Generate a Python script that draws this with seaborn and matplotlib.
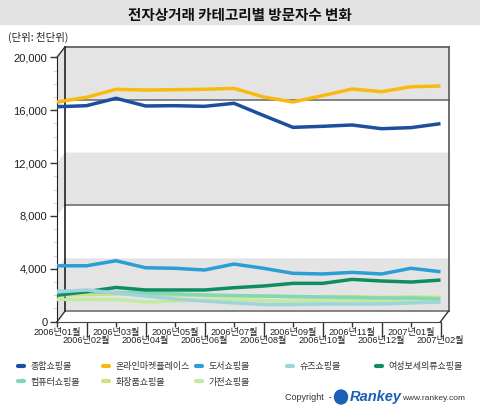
import numpy as np
import pandas as pd
import seaborn as sns
import matplotlib.pyplot as plt
from matplotlib.lines import Line2D
from matplotlib.patches import Polygon, Rectangle, Ellipse

# data (thousand visitors)
months = ['2006년01월', '2006년02월', '2006년03월', '2006년04월', '2006년05월', '2006년06월', '2006년07월',
          '2006년08월', '2006년09월', '2006년10월', '2006년11월', '2006년12월', '2007년01월', '2007년02월']
total_mall = [16260, 16340, 16900, 16320, 16340, 16290, 16520, 15600, 14700, 14780, 14880, 14600, 14680, 14980]
market_place = [16620, 16970, 17580, 17520, 17550, 17580, 17650, 17000, 16620, 17100, 17600, 17400, 17770, 17830]
book_mall = [4230, 4230, 4610, 4080, 4040, 3910, 4360, 4040, 3660, 3610, 3730, 3610, 4040, 3780]
women_mall = [2000, 2270, 2590, 2400, 2400, 2400, 2570, 2700, 2900, 2900, 3200, 3080, 3000, 3150]
shoes_mall = [2250, 2400, 2170, 1940, 1720, 1560, 1420, 1300, 1300, 1340, 1340, 1340, 1420, 1490]
computer_mall = [2320, 2250, 2210, 2170, 2100, 2020, 1980, 1940, 1900, 1870, 1830, 1790, 1790, 1720]
cosmetic_mall = [2020, 2060, 2100, 2060, 2020, 1980, 1940, 1940, 1900, 1870, 1900, 1830, 1870, 1830]
appliance_mall = [1680, 1680, 1680, 1490, 1560, 1640, 1640, 1600, 1560, 1560, 1600, 1560, 1560, 1490]

names = ['종합쇼핑몰', '온라인마켓플레이스', '도서쇼핑몰', '슈즈쇼핑몰', '여성보세의류쇼핑몰',
         '컴퓨터쇼핑몰', '화장품쇼핑몰', '가전쇼핑몰']
colors = ['#1d4f9e', '#f7bb10', '#2a9fd6', '#9fd4dc', '#0f8c60', '#80d8b6', '#cde27a', '#c2eaa0']
series = [total_mall, market_place, book_mall, shoes_mall, women_mall, computer_mall, cosmetic_mall, appliance_mall]

df = pd.DataFrame({'month': np.tile(np.arange(len(months)), len(names)),
                   'visitors': np.concatenate(series),
                   'category': np.repeat(names, len(months))})

plt.rcParams['font.family'] = ['Liberation Sans', 'Noto Sans CJK KR', 'DejaVu Sans']
kr = ['Noto Sans CJK KR', 'DejaVu Sans']

W, H = 480, 409
fig = plt.figure(figsize=(W / 100, H / 100), dpi=100)

# title bar
fig.patches.append(Rectangle((0, 1 - 24 / H), 1, 24 / H, transform=fig.transFigure,
                             color='#e3e3e3', zorder=0))
fig.text(0.5, 1 - 15 / H, '전자상거래 카테고리별 방문자수 변화', ha='center', va='center',
         fontsize=10.5, fontweight='bold', color='#111111', family=kr)
fig.text(8 / W, 1 - 37 / H, '(단위: 천단위)', ha='left', va='center', fontsize=7.5, color='#222222',
         family=kr)

# front plane of the pseudo-3d chart
x0, x1, y0, y1 = 57, 440.5, 321.7, 57.3
ax = fig.add_axes([x0 / W, 1 - y0 / H, (x1 - x0) / W, (y0 - y1) / H])
n = len(months) - 1
ax.set_xlim(0, n)
ax.set_ylim(0, 20000)
ax.set_facecolor('none')

dx = 8 / ((x1 - x0) / n)
dy = 10.5 / ((y0 - y1) / 20000)

# back wall bands
for lo, hi in [(0, 4000), (8000, 12000), (16000, 20000)]:
    ax.add_patch(Polygon([(0, lo), (dx, lo + dy), (n + dx, lo + dy), (n + dx, hi + dy), (dx, hi + dy), (0, hi)],
                         closed=True, facecolor='#e4e4e4', edgecolor='none', clip_on=False, zorder=0))
for v in [0, 8000, 16000]:
    ax.plot([dx, n + dx], [v + dy, v + dy], color='#707070', lw=1.2, clip_on=False, zorder=1)
ax.plot([dx, n + dx], [20000 + dy] * 2, color='#555555', lw=1.2, clip_on=False, zorder=1)
ax.plot([n + dx] * 2, [dy, 20000 + dy], color='#555555', lw=1.2, clip_on=False, zorder=1)
ax.plot([dx, dx], [dy, 20000 + dy], color='#222222', lw=1.2, clip_on=False, zorder=1)
ax.plot([0, dx], [20000, 20000 + dy], color='#333333', lw=1, clip_on=False, zorder=1)
ax.plot([0, dx], [0, dy], color='#333333', lw=1, clip_on=False, zorder=1)
ax.plot([n, n + dx], [0, dy], color='#333333', lw=1, clip_on=False, zorder=1)

sns.lineplot(data=df, x='month', y='visitors', hue='category', hue_order=names[::-1],
             palette=dict(zip(names, colors)), linewidth=2.5, estimator=None, legend=False,
             ax=ax, zorder=3)
for l in ax.lines[-len(names):]:
    l.set_solid_capstyle('butt')

for s in ['top', 'right']:
    ax.spines[s].set_visible(False)
ax.spines['left'].set_color('#222222')
ax.spines['bottom'].set_color('#444444')
ax.set_xlabel('')
ax.set_ylabel('')

ax.set_yticks(range(0, 20001, 4000))
ax.set_yticklabels([f'{v:,}' for v in range(0, 20001, 4000)], fontsize=8, color='#222222')
ax.tick_params(axis='y', length=5, width=1, pad=2, color='#333333')
ax.set_yticks(range(0, 20001, 1000), minor=True)
ax.tick_params(axis='y', which='minor', length=3, width=0.6, color='#d0d0d0')

ax.set_xticks(range(0, n + 1, 2))
ax.set_xticklabels(months[0::2], fontsize=6.6, color='#222222')
ax.set_xticks(range(1, n + 1, 2), minor=True)
ax.set_xticklabels(months[1::2], minor=True, fontsize=6.6, color='#222222')
ax.tick_params(axis='x', which='major', length=3.6, width=1, pad=0.8, color='#333333')
ax.tick_params(axis='x', which='minor', length=10.5, width=1, pad=0, color='#333333')

# legend
leg_x = [18, 103, 196, 287, 376, 18, 103, 196]
leg_y = [366.5, 366.5, 366.5, 366.5, 366.5, 382, 382, 382]
for name, c, lx, ly in zip(names, colors, leg_x, leg_y):
    h = Line2D([], [], color=c, lw=3, solid_capstyle='round')
    fig.legend(handles=[h], labels=[name], loc='center left', bbox_to_anchor=(lx / W, 1 - ly / H),
               frameon=False, handlelength=0.7, handletextpad=0.7, borderpad=0, borderaxespad=0,
               prop={'family': kr, 'size': 6.5}, labelcolor='#333333')

# copyright
fig.text(285 / W, 1 - 398 / H, 'Copyright  -', ha='left', va='center', fontsize=6.5, color='#333333')
fig.patches.append(Ellipse((341 / W, 1 - 397 / H), 13 / W, 14 / H, transform=fig.transFigure,
                           color='#1c5fb8', zorder=1))
fig.text(350 / W, 1 - 397 / H, 'Rankey', ha='left', va='center', fontsize=10.5, fontweight='bold',
         style='italic', color='#1c5fb8')
fig.text(402 / W, 1 - 399 / H, 'www.rankey.com', ha='left', va='center', fontsize=6, color='#333333')

fig.savefig('out.png', dpi=100, facecolor='white')
